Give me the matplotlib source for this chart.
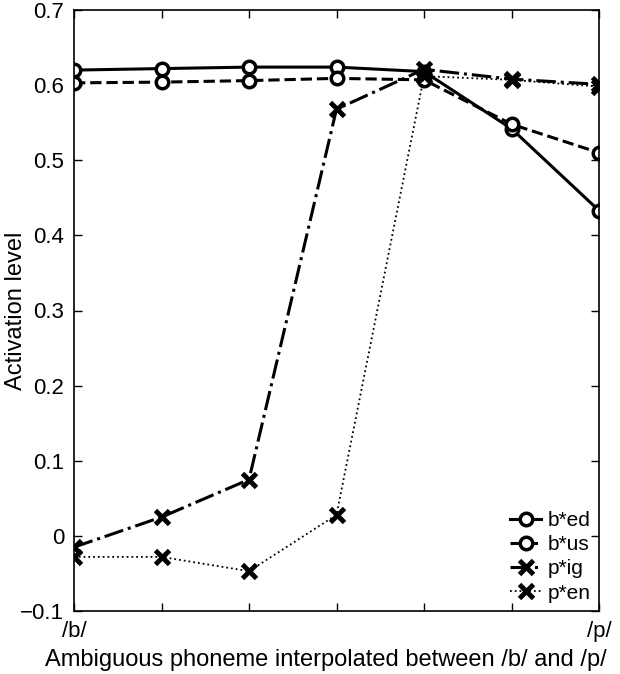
import matplotlib.pyplot as plt

plt.rcParams['font.family'] = ['Liberation Sans', 'DejaVu Sans']

steps = [0, 1, 2, 3, 4, 5, 6]
b_ed = [0.620, 0.622, 0.624, 0.624, 0.618, 0.542, 0.433]
b_us = [0.603, 0.604, 0.606, 0.609, 0.607, 0.548, 0.510]
p_ig = [-0.015, 0.025, 0.075, 0.568, 0.621, 0.608, 0.601]
p_en = [-0.028, -0.028, -0.047, 0.028, 0.612, 0.607, 0.598]
xtick_labels = ['/b/', '', '', '', '', '', '/p/']
yticks = [-0.1, 0, 0.1, 0.2, 0.3, 0.4, 0.5, 0.6, 0.7]
ytick_labels = ['\u22120.1', '0', '0.1', '0.2', '0.3', '0.4', '0.5', '0.6', '0.7']

fig = plt.figure(figsize=(6.2, 6.74), dpi=100)
ax = fig.add_axes([74/620, 63/674, 525/620, 601/674])

ax.plot(steps, b_ed, '-o', color='black', lw=2.2, ms=9, mew=2.5, mfc='white', label='b*ed')
ax.plot(steps, b_us, '--o', color='black', lw=2.2, ms=9, mew=2.5, mfc='white', label='b*us')
ax.plot(steps, p_ig, '-.x', color='black', lw=2.2, ms=10, mew=3.5, label='p*ig')
ax.plot(steps, p_en, ':x', color='black', lw=1.3, ms=10, mew=3.5, label='p*en')

ax.set_xlim(0, 6)
ax.set_ylim(-0.1, 0.7)
ax.set_xticks(steps)
ax.set_xticklabels(xtick_labels)
ax.set_yticks(yticks)
ax.set_yticklabels(ytick_labels)
ax.tick_params(direction='in', top=True, right=True, length=6, labelsize=16, width=1)
ax.tick_params(axis='y', pad=7)
ax.tick_params(axis='x', pad=7)
for s in ax.spines.values():
    s.set_linewidth(1.2)

ax.set_xlabel('Ambiguous phoneme interpolated between /b/ and /p/', fontsize=17)
ax.xaxis.set_label_coords(0.48, -0.064)
ax.set_ylabel('Activation level', fontsize=17)
ax.yaxis.set_label_coords(-0.09, 0.5)

ax.legend(loc='lower right', frameon=False, fontsize=15, handlelength=1.5,
          handletextpad=0.3, labelspacing=0.25, borderaxespad=0.0)

fig.savefig('out.png', dpi=100)
